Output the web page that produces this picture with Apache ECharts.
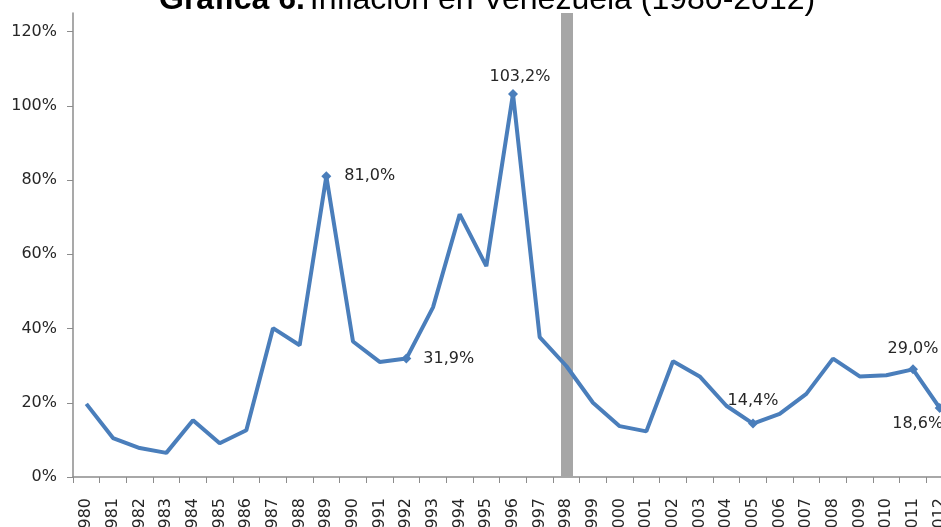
<!DOCTYPE html>
<html>
<head>
<meta charset="utf-8">
<script src="https://cdn.jsdelivr.net/npm/echarts@6/dist/echarts.min.js"></script>
<style>
  html, body { margin: 0; padding: 0; background: #fff; }
  #chart { width: 941px; height: 527px; }
</style>
</head>
<body>
<div id="chart"></div>
<script>
// Years on the horizontal axis
const years = ['1980','1981','1982','1983','1984','1985','1986','1987','1988','1989','1990',
  '1991','1992','1993','1994','1995','1996','1997','1998','1999','2000','2001','2002','2003',
  '2004','2005','2006','2007','2008','2009','2010','2011','2012'];

// Annual inflation, percent
const inflation = [19.7, 10.5, 7.8, 6.5, 15.3, 9.1, 12.6, 40.1, 35.5, 81.0, 36.5,
  31.0, 31.9, 45.7, 70.8, 56.8, 103.2, 37.7, 29.9, 20.0, 13.7, 12.3, 31.2, 27.1,
  19.2, 14.4, 17.0, 22.4, 31.9, 27.1, 27.4, 29.0, 18.6];

// Years whose value is written next to the point
const labelledYears = ['1989', '1992', '1996', '2005', '2011', '2012'];

// Year marked with the vertical band
const markedYear = '1998';

// Value-axis tick labels
const yTicks = [0, 20, 40, 60, 80, 100, 120];

// Where each value label sits relative to its point
const labelPlacement = {
  '1989': { position: 'right', distance: 13, offset: [0, 0] },
  '1992': { position: 'right', distance: 12, offset: [0, 0] },
  '1996': { position: 'top', distance: 4, offset: [7, 0] },
  '2005': { position: 'top', distance: 10, offset: [0, 0] },
  '2011': { position: 'top', distance: 8, offset: [0, 0] },
  '2012': { position: 'bottom', distance: 3, offset: [-22, 0] }
};

const fmt = v => v.toFixed(1).replace('.', ',') + '%';

const seriesData = inflation.map((v, i) => {
  const y = years[i];
  if (labelledYears.indexOf(y) < 0) return { value: v, symbol: 'none' };
  const place = labelPlacement[y];
  return {
    value: v,
    symbol: 'diamond',
    symbolSize: 10,
    label: {
      show: true,
      position: place.position,
      distance: place.distance,
      offset: place.offset,
      formatter: p => fmt(p.value),
      fontFamily: 'DejaVu Sans',
      fontSize: 16,
      color: '#262626'
    }
  };
});

const chart = echarts.init(document.getElementById('chart'), null, { renderer: 'canvas' });
chart.setOption({
  animation: false,
  backgroundColor: '#fff',
  title: {
    left: 154,
    top: -21,
    text: '{b|Gráfica 6.} {n|Inflación en Venezuela (1980-2012)}',
    textStyle: {
      rich: {
        b: { fontFamily: 'Liberation Sans', fontWeight: 'bold', fontSize: 32, color: '#000' },
        n: { fontFamily: 'Liberation Sans', fontWeight: 'normal', fontSize: 32, color: '#000' }
      }
    }
  },
  grid: { left: 73, top: 13, width: 880, height: 464, containLabel: false, outerBoundsMode: 'none' },
  xAxis: {
    type: 'category',
    data: years,
    boundaryGap: true,
    axisLine: { lineStyle: { color: '#8c8c8c', width: 1.5 } },
    axisTick: { show: true, alignWithLabel: false, length: 6, lineStyle: { color: '#8c8c8c' } },
    axisLabel: { rotate: 90, interval: 0, fontFamily: 'DejaVu Sans', fontSize: 16, color: '#262626', margin: 21 },
    splitLine: { show: false }
  },
  yAxis: {
    type: 'value',
    min: 0,
    max: 125,
    axisLine: { show: true, lineStyle: { color: '#8c8c8c', width: 1.5 } },
    axisTick: { show: true, length: 6, customValues: yTicks, lineStyle: { color: '#8c8c8c' } },
    axisLabel: { customValues: yTicks, formatter: v => v + '%', fontFamily: 'DejaVu Sans', fontSize: 16, color: '#262626', margin: 16 },
    splitLine: { show: false }
  },
  series: [{
    type: 'line',
    data: seriesData,
    lineStyle: { color: '#4a7ebb', width: 4 },
    itemStyle: { color: '#4a7ebb' },
    showAllSymbol: true,
    z: 3,
    markLine: {
      silent: true,
      symbol: 'none',
      label: { show: false },
      lineStyle: { color: '#a6a6a6', width: 12, type: 'solid' },
      data: [{ xAxis: markedYear }],
      z: 1
    }
  }]
});
</script>
</body>
</html>
